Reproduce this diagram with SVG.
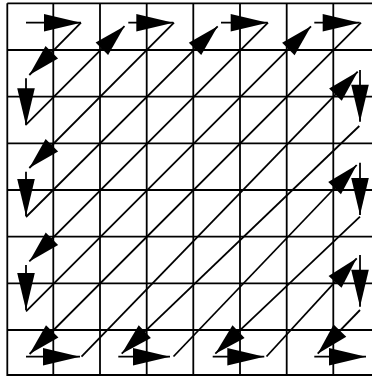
<svg xmlns="http://www.w3.org/2000/svg" width="372" height="376" viewBox="0 0 372 376">
  <style>
    .grid { stroke: #000; stroke-width: 1.8; fill: none; }
    .seg { stroke: #000; stroke-width: 1.8; fill: none; }
    .ax { marker-end: url(#headAxis); }
    .dg { marker-end: url(#headDiag); }
  </style>
  <defs>
    <marker id="headAxis" markerUnits="userSpaceOnUse" orient="auto" viewBox="-40 -12 42 24" markerWidth="42" markerHeight="24" refX="0" refY="0">
      <path d="M0,0 L-37,-8.8 L-37,8.8 Z" fill="#000"/>
    </marker>
    <marker id="headDiag" markerUnits="userSpaceOnUse" orient="auto" viewBox="-40 -12 42 24" markerWidth="42" markerHeight="24" refX="0" refY="0">
      <path d="M0,0 L-32,-8.8 L-32,8.8 Z" fill="#000"/>
    </marker>
  </defs>
  <rect width="372" height="376" fill="#fff"/>
  <g id="grid" class="grid">
    <path d="M7.3,3.3 V376 M53.3,3.3 V376 M100,3.3 V376 M146.7,3.3 V376 M193.3,3.3 V376 M240,3.3 V376 M286.7,3.3 V376 M333.3,3.3 V376"/>
    <path d="M7.3,3.3 H372 M7.3,50 H372 M7.3,96.7 H372 M7.3,143.3 H372 M7.3,190 H372 M7.3,236.7 H372 M7.3,283.3 H372 M7.3,330 H372 M7.3,375 H372"/>
  </g>
  <g id="connectors">
    <!-- top row -->
    <line id="h1" class="seg ax" x1="26" y1="22.7" x2="81" y2="22.7"/>
    <line id="h2" class="seg ax" x1="128.3" y1="22.7" x2="173.3" y2="22.7"/>
    <line id="h3" class="seg ax" x1="221" y1="22.7" x2="267.7" y2="22.7"/>
    <line id="h4" class="seg ax" x1="314.3" y1="22.7" x2="359.7" y2="22.7"/>
    <!-- bottom row -->
    <line id="b1" class="seg ax" x1="26" y1="356.7" x2="80" y2="356.7"/>
    <line id="b2" class="seg ax" x1="118.3" y1="356.7" x2="170" y2="356.7"/>
    <line id="b3" class="seg ax" x1="212.7" y1="356.7" x2="264.3" y2="356.7"/>
    <line id="b4" class="seg ax" x1="314.3" y1="356.7" x2="366" y2="356.7"/>
    <!-- left column -->
    <line id="v1" class="seg ax" x1="26" y1="78.3" x2="26" y2="125.3"/>
    <line id="v2" class="seg ax" x1="26" y1="171.7" x2="26" y2="216"/>
    <line id="v3" class="seg ax" x1="26" y1="265" x2="26" y2="310"/>
    <!-- right column -->
    <line id="r1" class="seg ax" x1="360" y1="70" x2="360" y2="121.7"/>
    <line id="r2" class="seg ax" x1="360" y1="162.7" x2="360" y2="215"/>
    <line id="r3" class="seg ax" x1="360" y1="255" x2="360" y2="306.7"/>
    <!-- diagonals -->
    <line id="d1" class="seg dg" x1="81" y1="22.7" x2="29.3" y2="75"/>
    <line id="d2" class="seg dg" x1="26" y1="124.7" x2="124.5" y2="26.2"/>
    <line id="d3" class="seg dg" x1="174" y1="22.7" x2="29.3" y2="168"/>
    <line id="d4" class="seg dg" x1="26" y1="217" x2="217.7" y2="26.3"/>
    <line id="d5" class="seg dg" x1="268" y1="22.7" x2="29.3" y2="261.4"/>
    <line id="d6" class="seg dg" x1="26" y1="311.3" x2="311" y2="26.3"/>
    <line id="d7" class="seg dg" x1="361" y1="22.7" x2="29.6" y2="354"/>
    <line id="d8" class="seg dg" x1="81.5" y1="356.7" x2="357.7" y2="71.7"/>
    <line id="d9" class="seg dg" x1="359.3" y1="126" x2="121.7" y2="353.7"/>
    <line id="d10" class="seg dg" x1="173.5" y1="356.5" x2="356.7" y2="165"/>
    <line id="d11" class="seg dg" x1="360" y1="216.7" x2="215.3" y2="353.7"/>
    <line id="d12" class="seg dg" x1="266.5" y1="356.5" x2="356.7" y2="258.3"/>
    <line id="d13" class="seg dg" x1="360" y1="310" x2="317.7" y2="353.7"/>
  </g>
</svg>
